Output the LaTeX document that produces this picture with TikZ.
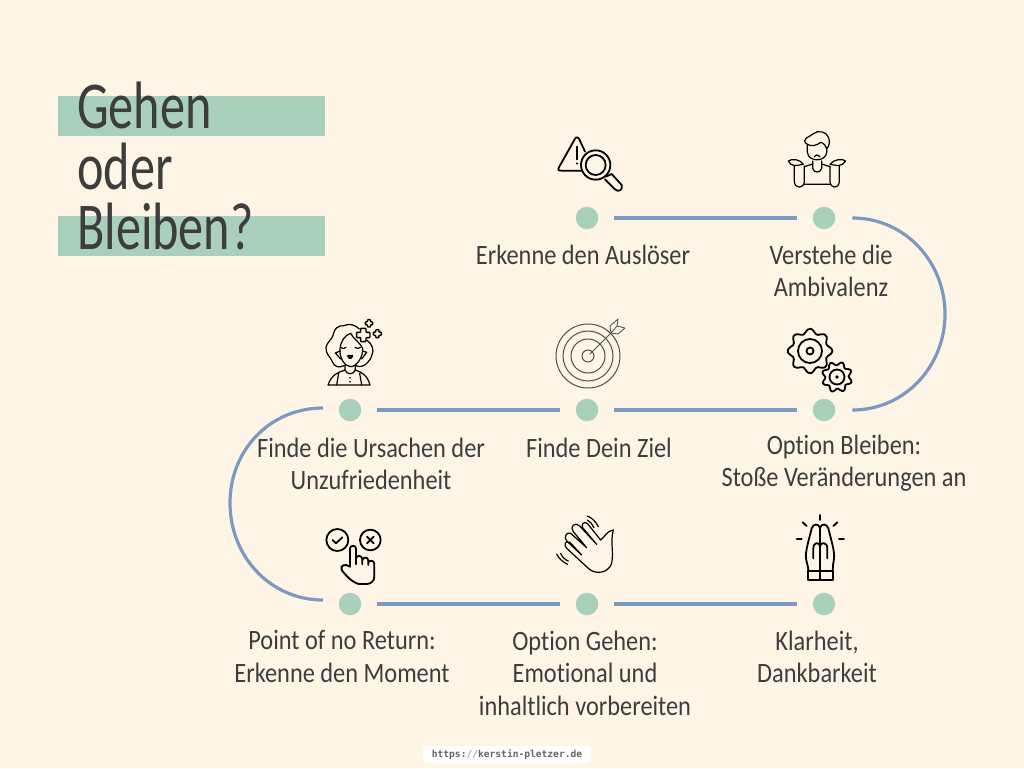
\documentclass[tikz,border=0pt]{standalone}
\usepackage{fontspec}
\setmainfont{Carlito}
\setmonofont{DejaVu Sans Mono}
\newfontfamily\labelfont[FakeStretch=0.87,Ligatures=NoCommon]{Carlito}
\newfontfamily\titlefont[FakeStretch=0.75,Ligatures=NoCommon]{Carlito}
\usetikzlibrary{positioning}
\definecolor{bgcream}{HTML}{FFF5E7}
\definecolor{stepgreen}{HTML}{A9D0BD}
\definecolor{pathblue}{HTML}{7C9ABF}
\definecolor{textgrey}{HTML}{3D3D3D}
\tikzset{
  stepdot/.style = {circle, fill=stepgreen, minimum size=22.5pt, inner sep=0pt},
  steptext/.style = {align=center, text=textgrey, font=\labelfont\fontsize{28}{32.5}\selectfont, inner sep=0pt, anchor=north},
  titletext/.style = {text=textgrey, font=\titlefont\fontsize{67}{70}\selectfont, inner sep=0pt, anchor=base west},
  band/.style = {fill=stepgreen, minimum width=267pt, minimum height=40pt, inner sep=0pt, anchor=north west},
  pathline/.style = {draw=pathblue, line width=3.2pt},
  icon/.style = {draw=black, line width=1.2pt, fill=none, line cap=round, line join=round},
  boldicon/.style = {icon, line width=1.8pt},
}
\begin{document}
\begin{tikzpicture}[x=1pt, y=-1pt]
  \useasboundingbox (0,0) rectangle (1024,768);
  \fill [bgcream] (0,0) rectangle (1024,768);
  % title
  \node [band] (bandA) at (58,96) {};
  \node [band] (bandB) at (58,216) {};
  \node [titletext] (titleA) at (77,128) {Gehen};
  \node [titletext] (titleB) at (77,189) {oder};
  \node [titletext] (titleC) at (77,249) {Bleiben?};
  % dots
  \node [stepdot] (d1) at (587,218) {};
  \node [stepdot] (d2) at (824,218) {};
  \node [stepdot] (d3) at (824,410) {};
  \node [stepdot] (d4) at (587,410) {};
  \node [stepdot] (d5) at (350,410) {};
  \node [stepdot] (d6) at (350,604) {};
  \node [stepdot] (d7) at (587,604) {};
  \node [stepdot] (d8) at (824,604) {};
  % path
  \draw [pathline] ([xshift=16pt]d1.east) -- ([xshift=-16pt]d2.west);
  \draw [pathline] ([xshift=17pt]d2.east) .. controls (905,218) and (945,262) .. (945,314) .. controls (945,366) and (905,410) .. ([xshift=17pt]d3.east);
  \draw [pathline] ([xshift=16pt]d4.east) -- ([xshift=-16pt]d3.west);
  \draw [pathline] ([xshift=16pt]d5.east) -- ([xshift=-16pt]d4.west);
  \draw [pathline] (323,408) .. controls (270,408) and (230,450) .. (230,503) .. controls (230,556) and (270,600) .. (323,600);
  \draw [pathline] ([xshift=16pt]d6.east) -- ([xshift=-16pt]d7.west);
  \draw [pathline] ([xshift=16pt]d7.east) -- ([xshift=-16pt]d8.west);
  % labels
  \node [steptext] (t1) at (583,244.5) {Erkenne den Auslöser};
  \node [steptext] (t2) at (831,244.5) {Verstehe die\\Ambivalenz};
  \node [steptext] (t3) at (844,434.5) {Option Bleiben:\\Stoße Veränderungen an};
  \node [steptext] (t4) at (599,437.5) {Finde Dein Ziel};
  \node [steptext] (t5) at (371,437.5) {Finde die Ursachen der\\Unzufriedenheit};
  \node [steptext] (t6) at (342,630.5) {Point of no Return:\\Erkenne den Moment};
  \node [steptext] (t7) at (585,630.5) {Option Gehen:\\Emotional und\\inhaltlich vorbereiten};
  \node [steptext] (t8) at (817,630.5) {Klarheit,\\Dankbarkeit};
  % warning and lens
  \begin{scope}[shift={(530,120)}, scale=1/3]
    \draw [boldicon] (165,95) -- (148,58) .. controls (143,50) and (138,50) .. (134,58) -- (88,140) .. controls (82,150) and (85,152) .. (95,152) -- (155,152);
    \draw [boldicon] (142,80) -- (142,118) (142,130) -- (142,131);
    \draw [boldicon] (197,135) circle (44) (197,135) circle (30);
    \draw [boldicon] (228,170) -- (245,162) -- (275,195) .. controls (280,210) and (265,218) .. (255,208) -- (225,178);
  \end{scope}
  % shrugging man
  \begin{scope}[shift={(780,125)}, scale=1/3]
    \draw [icon] (82,58) -- (82,82) .. controls (85,112) and (137,112) .. (140,82) -- (140,66);
    \draw [icon] (82,58) .. controls (72,52) and (72,45) .. (78,40) .. controls (88,34) and (95,30) .. (100,26) .. controls (115,14) and (140,20) .. (146,38) .. controls (150,52) and (148,62) .. (140,72) .. controls (138,62) and (132,55) .. (122,52) .. controls (110,62) and (95,65) .. (82,58);
    \draw [icon] (103,96) .. controls (107,88) and (115,88) .. (120,96);
    \draw [icon] (98,108) -- (98,130) .. controls (102,145) and (121,145) .. (125,130) -- (125,108);
    \draw [icon] (25,108) .. controls (35,100) and (60,102) .. (70,118) -- (45,122) .. controls (35,122) and (28,115) .. (25,108);
    \draw [icon] (197,108) .. controls (187,100) and (162,102) .. (150,118) -- (175,122) .. controls (185,122) and (192,115) .. (197,108);
    \draw [icon] (43,124) -- (43,170) .. controls (45,192) and (71,192) .. (73,170) -- (73,124);
    \draw [icon] (150,124) -- (150,170) .. controls (152,192) and (176,192) .. (178,170) -- (178,124);
    \draw [icon] (73,125) -- (98,117) (125,117) -- (150,125) (73,178) -- (150,178);
  \end{scope}
  % woman
  \begin{scope}[shift={(320,315)}, scale=1/3]
    \draw [icon] (118,42) .. controls (105,28) and (85,25) .. (72,32) .. controls (55,30) and (42,42) .. (40,58) .. controls (38,72) and (20,82) .. (18,97) .. controls (16,118) and (32,125) .. (38,142) .. controls (42,155) and (58,160) .. (72,152);
    \draw [icon] (140,75) .. controls (155,85) and (165,105) .. (155,122) .. controls (150,140) and (130,162) .. (108,152);
    \draw [icon] (60,102) .. controls (62,78) and (75,60) .. (92,55) .. controls (100,72) and (120,82) .. (128,100) .. controls (130,125) and (110,155) .. (92,155) .. controls (75,155) and (58,130) .. (60,102);
    \draw [icon] (60,108) -- (46,114) -- (62,132) (128,108) -- (140,112) -- (125,132);
    \draw [icon] (62,97) .. controls (67,102) and (73,102) .. (78,97) (105,97) .. controls (110,102) and (116,102) .. (121,97);
    \draw [boldicon] (84,122) -- (97,122) .. controls (95,132) and (86,132) .. (84,122);
    \draw [icon] (75,150) -- (75,165) .. controls (55,172) and (35,178) .. (24,210) -- (150,210) .. controls (142,180) and (125,172) .. (106,165) -- (106,150);
    \draw [icon] (75,165) .. controls (80,180) and (101,180) .. (106,165);
    \draw [icon] (50,210) -- (56,175) (125,210) -- (119,175);
    \draw [icon] (90,188) -- (90,189) (90,200) -- (90,201);
    \foreach \cx/\cy/\cr in {147/25/11, 172/56/12, 130/60/20} {
      \draw [icon, fill=bgcream, rounded corners=0.7pt, line width=1.4pt] (\cx-\cr,\cy-\cr/2.5) -- (\cx-\cr/2.5,\cy-\cr/2.5) -- (\cx-\cr/2.5,\cy-\cr) -- (\cx+\cr/2.5,\cy-\cr) -- (\cx+\cr/2.5,\cy-\cr/2.5) -- (\cx+\cr,\cy-\cr/2.5) -- (\cx+\cr,\cy+\cr/2.5) -- (\cx+\cr/2.5,\cy+\cr/2.5) -- (\cx+\cr/2.5,\cy+\cr) -- (\cx-\cr/2.5,\cy+\cr) -- (\cx-\cr/2.5,\cy+\cr/2.5) -- (\cx-\cr,\cy+\cr/2.5) -- cycle;
    }
  \end{scope}
  % target
  \foreach \ringr in {6,17,25,32} \draw [icon, line width=1pt, draw=black!70, dash pattern=on 2pt off 0.3pt] (588,356) circle (\ringr);
  \draw [icon, line width=1pt, draw=black!70] (590,354) -- (611,333);
  \draw [icon, line width=0.8pt, draw=black!70] (611,333) -- (610,326) -- (618,319) -- (617,326) -- cycle (611,333) -- (618,334) -- (625,328) -- (617,326);
  % gears
  \draw [boldicon] plot [smooth cycle, domain=0:352, samples=45, shift={(810,351)}] (\x:{20+2.4*cos(8*\x)});
  \draw [boldicon] (810,351) circle (12) (810,351) circle (3.5);
  \draw [boldicon] plot [smooth cycle, domain=0:352, samples=45, shift={(837,377)}] (\x+20:{13.5+2*cos(8*\x)});
  \draw [boldicon] (837,377) circle (7.5);
  \fill (837,377) circle (1.8);
  % check and cross, hand
  \begin{scope}[shift={(310,505)}, scale=1/3]
    \draw [boldicon] (82,105) circle (33) (181,105) circle (31);
    \draw [boldicon] (68,105) -- (78,115) -- (97,97);
    \draw [boldicon] (171,95) -- (191,115) (191,95) -- (171,115);
    \draw [boldicon] (120,185) -- (120,130) .. controls (120,120) and (138,120) .. (138,130) -- (138,178) -- (138,160) .. controls (140,150) and (155,150) .. (157,162) -- (157,178) -- (157,165) .. controls (160,155) and (174,155) .. (175,167) -- (175,180) -- (175,172) .. controls (180,165) and (193,165) .. (193,178) -- (193,215) .. controls (193,230) and (180,237) .. (170,237) -- (145,237) .. controls (125,230) and (110,215) .. (95,195) .. controls (90,180) and (105,175) .. (120,185);
  \end{scope}
  % waving hand
  \begin{scope}[shift={(310,505)}, scale=1/3]
    \draw [icon] (910,75) .. controls (890,78) and (885,95) .. (872,105) -- (832,55) .. controls (822,48) and (812,58) .. (818,68) -- (860,118) -- (808,62) .. controls (795,50) and (778,65) .. (790,80) -- (830,128) -- (782,85) .. controls (770,80) and (760,95) .. (770,108) -- (815,150) -- (780,112) .. controls (765,105) and (760,120) .. (770,130) -- (835,190) .. controls (855,210) and (895,205) .. (905,175) .. controls (912,140) and (900,110) .. (910,75);
    \draw [icon] (832,33) .. controls (845,38) and (858,50) .. (865,65);
    \draw [icon] (832,45) .. controls (840,50) and (848,58) .. (852,68);
    \draw [icon] (740,147) .. controls (745,160) and (760,172) .. (773,178);
    \draw [icon] (752,145) .. controls (756,155) and (765,165) .. (775,168);
  \end{scope}
  % praying hands
  \begin{scope}[shift={(770,505)}, scale=1/3]
    \draw [boldicon] (150,30) -- (150,45) (98,52) -- (110,63) (202,52) -- (190,63) (80,102) -- (95,102) (207,102) -- (222,102);
    \draw [boldicon] (150,225) -- (150,68) .. controls (145,55) and (130,55) .. (125,70) .. controls (118,100) and (105,140) .. (108,160) .. controls (110,175) and (115,185) .. (115,197);
    \draw [boldicon] (150,68) .. controls (155,55) and (170,55) .. (175,70) .. controls (182,100) and (195,140) .. (192,160) .. controls (190,175) and (188,185) .. (188,197);
    \draw [boldicon] (130,160) -- (130,130) .. controls (130,110) and (150,110) .. (150,125) .. controls (150,110) and (172,110) .. (172,130) -- (172,160);
    \draw [boldicon] (115,197) rectangle (188,225);
  \end{scope}
  % link
  \node [fill=white, rounded corners=3pt, minimum width=168pt, minimum height=17pt, inner sep=0pt, font=\ttfamily\bfseries\fontsize{9.6}{10}\selectfont, text=textgrey!80] (urlbox) at (507,754.5) {https:\textcolor{black!35}{//}kerstin-pletzer.de};
\end{tikzpicture}
\end{document}
